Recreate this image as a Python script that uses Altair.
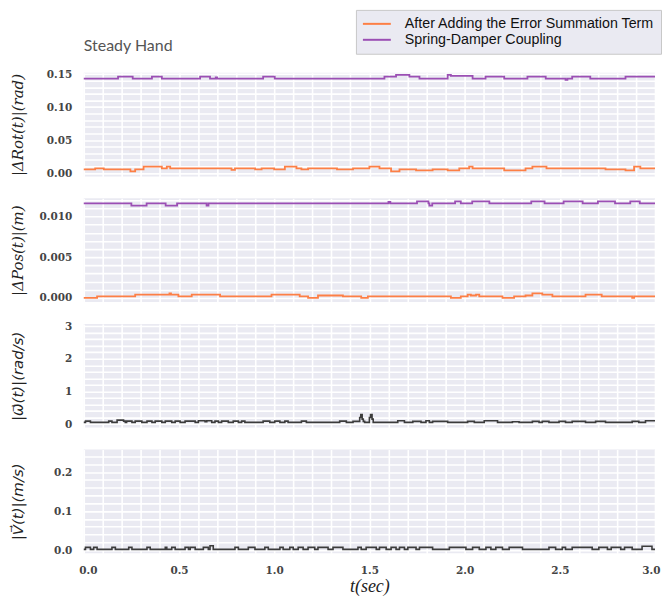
import altair as alt
import pandas as pd

# ---------------- data ----------------
S_ORANGE = "After Adding the Error Summation Term"
S_PURPLE = "Spring-Damper Coupling"

# Panel 1: |dRot(t)| (rad)
rot_or_t = [0.0, 0.06, 0.105, 0.245, 0.27, 0.314, 0.41, 0.436, 0.454, 0.776, 0.794, 0.90, 0.934, 1.0,
            1.056, 1.117, 1.143, 1.178, 1.33, 1.414, 1.50, 1.553, 1.614, 1.658, 1.745, 1.832, 1.911,
            1.972, 2.024, 2.042, 2.208, 2.32, 2.356, 2.43, 2.74, 2.845, 2.89, 2.923, 3.0]
rot_or_v = [0.0056, 0.0071, 0.0056, 0.0025, 0.0056, 0.0097, 0.0071, 0.0097, 0.0071, 0.0050, 0.0071,
            0.0056, 0.0071, 0.0056, 0.0097, 0.0071, 0.0056, 0.0071, 0.0056, 0.0071, 0.0097, 0.0071,
            0.0025, 0.0056, 0.0040, 0.0056, 0.0040, 0.0071, 0.0097, 0.0071, 0.0040, 0.0071, 0.0097,
            0.0071, 0.0056, 0.0040, 0.0097, 0.0071, 0.0071]
rot_pu_t = [0.0, 0.18, 0.257, 0.358, 0.41, 0.611, 0.663, 0.693, 0.70, 0.942, 1.003, 1.579, 1.64, 1.71,
            1.763, 1.911, 1.928, 2.042, 2.11, 2.208, 2.33, 2.426, 2.53, 2.54, 2.565, 2.66, 2.845, 3.0]
rot_pu_v = [0.1431, 0.1462, 0.1431, 0.1462, 0.1431, 0.1462, 0.1431, 0.1450, 0.1431, 0.1462, 0.1431,
            0.1462, 0.1488, 0.1462, 0.1431, 0.1488, 0.1472, 0.1431, 0.1462, 0.1431, 0.1462, 0.1431,
            0.1411, 0.1431, 0.1462, 0.1431, 0.1462, 0.1462]

# Panel 2: |dPos(t)| (m)
pos_or_t = [0.0, 0.07, 0.27, 0.450, 0.458, 0.497, 0.567, 0.716, 0.986, 1.134, 1.178, 1.23, 1.361,
            1.457, 1.492, 1.928, 1.98, 2.016, 2.033, 2.06, 2.077, 2.199, 2.26, 2.32, 2.356, 2.408,
            2.461, 2.635, 2.72, 2.88, 2.89, 3.0]
pos_or_v = [0.0, 0.0002, 0.0004, 0.00057, 0.0004, 0.0002, 0.0004, 0.0002, 0.0004, 0.0002, 0.0,
            0.0003, 0.0002, 0.0, 0.0002, 0.0, 0.0002, 0.0004, 0.0003, 0.0004, 0.0002, 0.0, 0.0002,
            0.0003, 0.00057, 0.0004, 0.0002, 0.0004, 0.0002, 0.0, 0.0002, 0.0002]
pos_pu_t = [0.0, 0.25, 0.33, 0.43, 0.49, 0.645, 0.655, 1.60, 1.61, 1.75, 1.81, 1.815, 1.83, 1.95,
            1.98, 2.04, 2.13, 2.35, 2.42, 2.52, 2.62, 2.70, 2.79, 2.87, 2.92, 3.0]
pos_pu_v = [0.01163, 0.01135, 0.01163, 0.01135, 0.01163, 0.01135, 0.01163, 0.01180, 0.01163,
            0.01187, 0.01163, 0.01135, 0.01163, 0.01187, 0.01163, 0.01187, 0.01163, 0.01187,
            0.01163, 0.01187, 0.01163, 0.01187, 0.01163, 0.01187, 0.01163, 0.01163]

# Panel 3: |omega(t)| (rad/s)
om_t = [0.0, 0.009, 0.035, 0.131, 0.148, 0.175, 0.209, 0.218, 0.225, 0.253, 0.27, 0.305, 0.332,
        0.358, 0.375, 0.41, 0.428, 0.462, 0.48, 0.506, 0.532, 0.585, 0.602, 0.637, 0.646, 0.672,
        0.689, 0.707, 0.724, 0.759, 0.785, 0.812, 0.829, 0.846, 0.942, 0.977, 1.003, 1.03, 1.056,
        1.073, 1.143, 1.169, 1.344, 1.379, 1.414, 1.449, 1.455, 1.462, 1.468, 1.475, 1.50, 1.506,
        1.514, 1.52, 1.649, 1.684, 1.728, 1.771, 1.797, 1.815, 1.832, 1.911, 2.016, 2.051, 2.103,
        2.173, 2.251, 2.286, 2.356, 2.391, 2.408, 2.443, 2.496, 2.53, 2.565, 2.635, 2.688, 2.74,
        2.88, 2.915, 2.95, 3.0]
om_v = [0.05, 0.09, 0.05, 0.09, 0.05, 0.12, 0.09, 0.05, 0.09, 0.05, 0.09, 0.05, 0.09, 0.05, 0.09,
        0.05, 0.09, 0.05, 0.09, 0.05, 0.09, 0.05, 0.10, 0.07, 0.10, 0.05, 0.09, 0.05, 0.09, 0.05,
        0.09, 0.05, 0.09, 0.05, 0.09, 0.05, 0.09, 0.05, 0.09, 0.05, 0.09, 0.05, 0.09, 0.05, 0.08,
        0.20, 0.29, 0.15, 0.08, 0.05, 0.20, 0.29, 0.15, 0.05, 0.10, 0.05, 0.08, 0.05, 0.10, 0.05,
        0.08, 0.05, 0.08, 0.05, 0.10, 0.05, 0.07, 0.05, 0.08, 0.05, 0.08, 0.05, 0.08, 0.05, 0.08,
        0.05, 0.08, 0.05, 0.08, 0.05, 0.10, 0.10]

# Panel 4: |V(t)| (m/s)
vel_t = [0.0, 0.009, 0.035, 0.052, 0.07, 0.148, 0.166, 0.236, 0.253, 0.332, 0.349, 0.428, 0.436,
         0.462, 0.48, 0.532, 0.55, 0.559, 0.585, 0.628, 0.654, 0.663, 0.68, 0.794, 0.812, 0.864,
         0.899, 0.951, 0.969, 1.03, 1.047, 1.082, 1.10, 1.126, 1.152, 1.178, 1.213, 1.23, 1.283,
         1.309, 1.361, 1.44, 1.457, 1.483, 1.536, 1.553, 1.588, 1.614, 1.64, 1.658, 1.684, 1.702,
         1.745, 1.763, 1.832, 1.92, 2.007, 2.042, 2.077, 2.112, 2.138, 2.164, 2.199, 2.234, 2.304,
         2.443, 2.478, 2.513, 2.53, 2.565, 2.67, 2.705, 2.75, 2.77, 2.82, 2.84, 2.88, 2.932, 2.984,
         3.0]
vel_v = [0.002, 0.007, 0.002, 0.007, 0.002, 0.007, 0.002, 0.007, 0.002, 0.007, 0.002, 0.007, 0.002,
         0.007, 0.002, 0.007, 0.002, 0.007, 0.002, 0.007, 0.002, 0.011, 0.002, 0.007, 0.002, 0.007,
         0.002, 0.007, 0.002, 0.007, 0.002, 0.007, 0.002, 0.007, 0.002, 0.007, 0.002, 0.007, 0.002,
         0.007, 0.002, 0.007, 0.002, 0.007, 0.002, 0.007, 0.002, 0.007, 0.002, 0.007, 0.002, 0.007,
         0.002, 0.007, 0.002, 0.007, 0.002, 0.007, 0.002, 0.007, 0.002, 0.007, 0.002, 0.007, 0.002,
         0.007, 0.002, 0.007, 0.002, 0.007, 0.002, 0.007, 0.002, 0.007, 0.002, 0.007, 0.002, 0.010,
         0.002, 0.002]

x_ticks = [i / 10 for i in range(31)]
rot_ticks = [i / 100 for i in range(16)]
pos_ticks = [i / 1000 for i in range(13)]
om_ticks = [i / 5 for i in range(16)]
vel_ticks = [i / 50 for i in range(13)]

ORANGE = "#FD7F45"
PURPLE = "#9B4FB4"
BLACK = "#3c3c3c"

W, H = 573, 104
LABEL_FONT = "DejaVu Serif"
TITLE_FONT = "DejaVu Serif"


def frame(t, v, name):
    return pd.DataFrame({"t": t, "v": v, "s": name})


def x_enc(bottom):
    if bottom:
        ax = alt.Axis(values=x_ticks, title="t(sec)",
                      labelExpr="abs(datum.value*2 - round(datum.value*2)) < 0.001 ? format(datum.value, '.1f') : ''",
                      labelFont=LABEL_FONT, labelFontSize=10.5, labelFontWeight="bold",
                      labelColor="#444", labelPadding=12, labelFlush=True, labelFlushOffset=5,
                      titleFont="Liberation Serif", titleFontStyle="italic", titleFontSize=18,
                      titleFontWeight="normal", titleColor="#222", titlePadding=2)
    else:
        ax = alt.Axis(values=x_ticks, labels=False, title=None, tickSize=0, labelPadding=0)
    return alt.X("t:Q", scale=alt.Scale(domain=[0, 3], nice=False, zero=False), axis=ax)


def y_enc(title, ticks, dom, step, fmt, font=TITLE_FONT):
    expr = (f"abs(datum.value/{step} - round(datum.value/{step})) < 0.000001 ? "
            f"format(datum.value, '{fmt}') : ''")
    ax = alt.Axis(values=ticks, title=title, labelExpr=expr, labelFlush=False,
                  labelFont=LABEL_FONT, labelFontSize=10.5, labelFontWeight="bold",
                  labelColor="#444", labelPadding=12,
                  titleFont=font, titleFontStyle="italic", titleFontSize=15,
                  titleFontWeight="normal", titleColor="#222", titlePadding=8,
                  minExtent=50, maxExtent=50)
    return alt.Y("v:Q", scale=alt.Scale(domain=dom, nice=False, zero=False, clamp=True), axis=ax)


color_scale = alt.Scale(domain=[S_ORANGE, S_PURPLE], range=[ORANGE, PURPLE])

rot_df = pd.concat([frame(rot_or_t, rot_or_v, S_ORANGE), frame(rot_pu_t, rot_pu_v, S_PURPLE)])
pos_df = pd.concat([frame(pos_or_t, pos_or_v, S_ORANGE), frame(pos_pu_t, pos_pu_v, S_PURPLE)])
om_df = frame(om_t, om_v, "w")
vel_df = frame(vel_t, vel_v, "v")

p1 = alt.Chart(rot_df).mark_line(interpolate="step-after", strokeWidth=1.8).encode(
    x=x_enc(False),
    y=y_enc("|ΔRot(t)|(rad)", rot_ticks, [-0.005, 0.152], 0.05, ".2f"),
    color=alt.Color("s:N", scale=color_scale, sort=[S_ORANGE, S_PURPLE],
                    legend=alt.Legend(title=None, orient="none", legendX=273, legendY=-63,
                                      symbolType="M-2,0H2", symbolStrokeWidth=2, symbolSize=196,
                                      symbolOffset=7,
                                      labelFont="Liberation Sans", labelFontSize=14.3,
                                      labelColor="#111", labelLimit=400,
                                      fillColor="#EAEAF2", strokeColor="#c8c8c8",
                                      padding=6, rowPadding=0, labelOffset=20)),
).properties(width=W, height=H,
             title=alt.TitleParams("Steady Hand", anchor="start", frame="group", font="Lato",
                                   fontSize=16, fontWeight="normal", color="#555", offset=15))

p2 = alt.Chart(pos_df).mark_line(interpolate="step-after", strokeWidth=1.8).encode(
    x=x_enc(False),
    y=y_enc("|ΔPos(t)|(m)", pos_ticks, [-0.0005, 0.01224], 0.005, ".3f"),
    color=alt.Color("s:N", scale=color_scale, legend=None),
).properties(width=W, height=H)

p3 = alt.Chart(om_df).mark_line(interpolate="step-after", strokeWidth=1.6, color=BLACK).encode(
    x=x_enc(False),
    y=y_enc("|ω⃗(t)|(rad/s)", om_ticks, [-0.11, 3.07], 1, "d", font="DejaVu Sans"),
).properties(width=W, height=H)

p4 = alt.Chart(vel_df).mark_line(interpolate="step-after", strokeWidth=1.6, color=BLACK).encode(
    x=x_enc(True),
    y=y_enc("|V⃗(t)|(m/s)", vel_ticks, [-0.008, 0.258], 0.1, ".1f", font="DejaVu Sans"),
).properties(width=W, height=H)

chart = alt.vconcat(p1, p2, p3, p4, spacing=22, bounds="flush").properties(
    padding={"left": 3, "top": 0, "right": 0, "bottom": 0}
).configure_view(
    fill="#EAEAF2", stroke=None
).configure_axis(
    grid=True, gridColor="#ffffff", gridWidth=1.6, gridOpacity=1,
    domain=False, ticks=False
)

chart.save("out.html", embed_options={"renderer": "svg", "actions": False})
